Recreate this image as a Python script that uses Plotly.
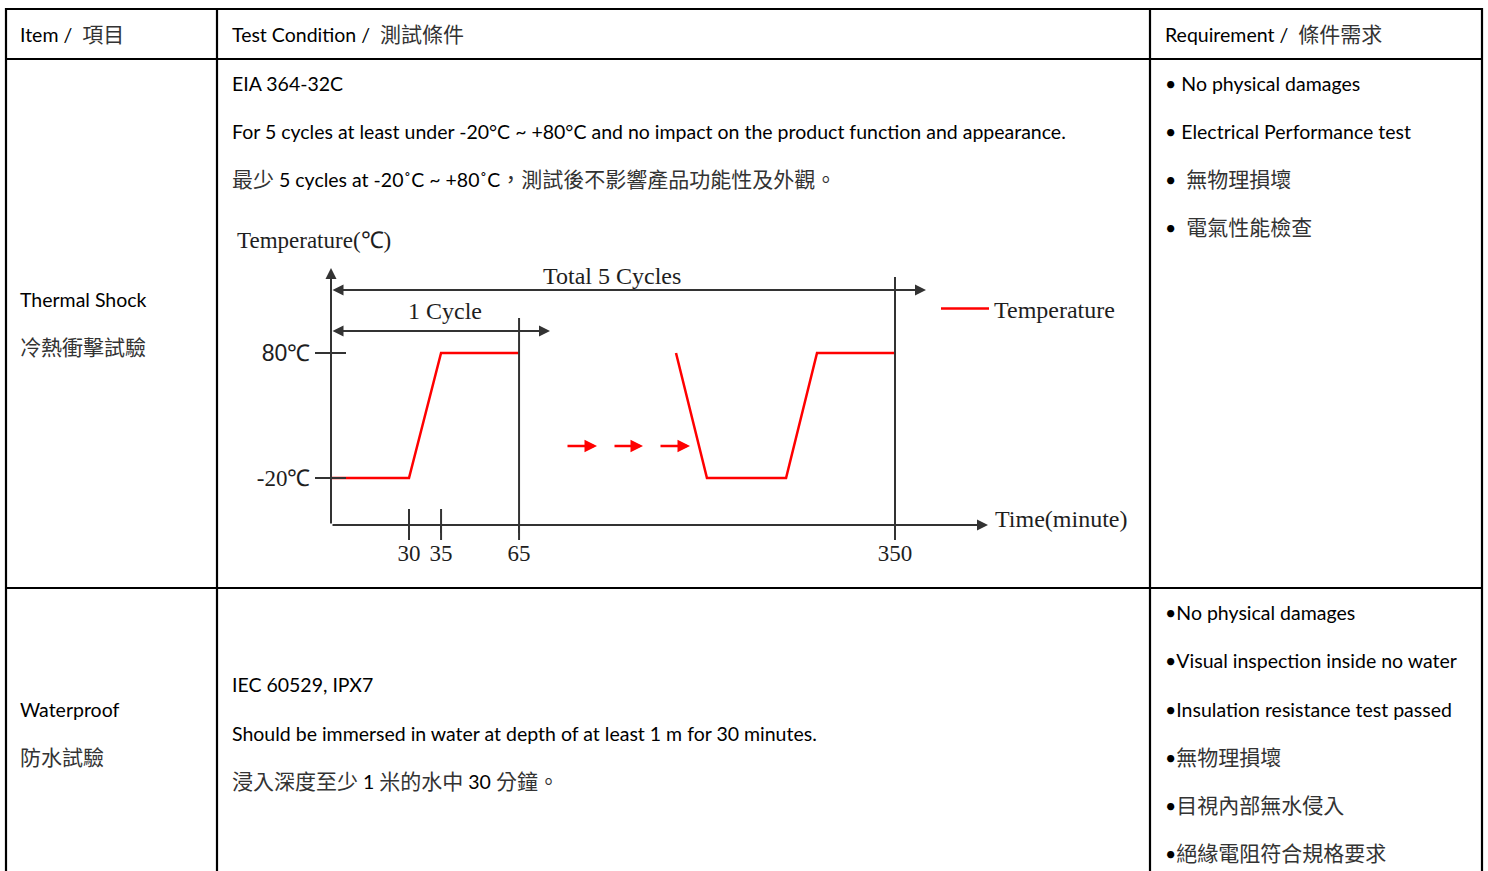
import re
import plotly.graph_objects as go

# ---------------- data ----------------
# Thermal-shock temperature profile, read off the schematic (the time axis is drawn
# not to scale, so times are positions along the drawn axis, labelled by time_tick_text)
first_cycle_time = [0, 48.4, 68.3, 116.7]
first_cycle_temp = [-20, -20, 80, 80]
last_cycle_time = [214.1, 233.3, 282.4, 301.6, 350]
last_cycle_temp = [80, -20, -20, 80, 80]
time_tick_vals = [48.4, 68.3, 116.7, 350]
time_tick_text = ["30", "35", "65", "350"]
cycle_bounds = [116.7, 350]
temp_tick_vals = [80, -20]
temp_tick_text = ['<span style="font-family:Liberation Sans">80</span>℃', "-20℃"]
series_name = "Temperature"

# table text
header = ["Item /  項目", "Test Condition /  測試條件", "Requirement /  條件需求"]
items = [["Thermal Shock", "冷熱衝擊試驗"], ["Waterproof", "防水試驗"]]
conditions = [
    ["EIA 364-32C",
     "For 5 cycles at least under -20°C ~ +80°C and no impact on the product function and appearance.",
     "最少 5 cycles at -20˚C ~ +80˚C，測試後不影響產品功能性及外觀。"],
    ["IEC 60529, IPX7",
     "Should be immersed in water at depth of at least 1 m for 30 minutes.",
     "浸入深度至少 1 米的水中 30 分鐘。"],
]
requirements = [
    ["• No physical damages", "• Electrical Performance test", "•  無物理損壞", "•  電氣性能檢查"],
    ["•No physical damages", "•Visual inspection inside no water", "•Insulation resistance test passed",
     "•無物理損壞", "•目視內部無水侵入", "•絕緣電阻符合規格要求"],
]

# ---------------- layout constants (pixels) ----------------
W, H = 1488, 871
COL_X = [6, 217, 1150, 1482]
ROW_Y = [9, 59, 588]
TEXT_FONT = "Lato, 'Noto Sans CJK TC', sans-serif"
SERIF = "'Liberation Serif', 'Times New Roman', serif"
INK = "#1e1e1e"
TX = -2      # annotation box padding compensation
TY = -0.5

# chart pixel geometry
X0_PX, X350_PX = 331, 895
Y80_PX, YM20_PX = 353, 478
SX = (X350_PX - X0_PX) / 350.0
SY = (YM20_PX - Y80_PX) / 100.0


def vx(px):
    return (px - X0_PX) / SX


def vy(py):
    return 80 + (Y80_PX - py) / SY


def cjk(s):
    return re.sub(r'([\u2E80-\u9FFF\uFF00-\uFFEF\u3000-\u303F]+)',
                  r'<span style="font-size:21px;color:#333333">\1</span>', s)


fig = go.Figure()

# temperature profile (first and last cycle)
fig.add_trace(go.Scatter(
    x=first_cycle_time + [None] + last_cycle_time,
    y=first_cycle_temp + [None] + last_cycle_temp,
    mode="lines", line=dict(color="#ff0000", width=2.5),
    name=series_name, xaxis="x2", yaxis="y2", showlegend=True, hoverinfo="skip",
))

shapes = []
annotations = []

# ---- table grid ----
for y in ROW_Y:
    shapes.append(dict(type="line", xref="x", yref="y", x0=COL_X[0] - 1, x1=COL_X[-1] + 1, y0=y, y1=y,
                       line=dict(color="black", width=2.2)))
for x in COL_X:
    shapes.append(dict(type="line", xref="x", yref="y", x0=x, x1=x, y0=ROW_Y[0] - 1, y1=H + 5,
                       line=dict(color="black", width=2.2)))


def add_text(x, y, s):
    annotations.append(dict(xref="x", yref="y", x=x + TX, y=y + TY, text=cjk(s), showarrow=False,
                            xanchor="left", yanchor="middle",
                            font=dict(family=TEXT_FONT, size=19.5, color="black")))


HEADER_Y = 34
for cx, s in zip([20, 232, 1165], header):
    add_text(cx, HEADER_Y, s)

item_y = [[300, 347], [710, 757]]
cond_y = [[84, 132, 179], [685, 734, 781]]
req_y = [[84, 132, 179, 227], [613, 661, 710, 757, 805, 853]]
for r in range(2):
    for s, y in zip(items[r], item_y[r]):
        add_text(20, y, s)
    for s, y in zip(conditions[r], cond_y[r]):
        add_text(232, y, s)
    for s, y in zip(requirements[r], req_y[r]):
        add_text(1165, y, s)

# ---- chart decorations ----
AX_C = "#333333"
x_axis_y = vy(525)


def arrow(x_head, y_head, x_tail, y_tail, color=AX_C, width=2, both=False, size=1.1):
    a = dict(xref="x2", yref="y2", axref="x2", ayref="y2", x=x_head, y=y_head, ax=x_tail, ay=y_tail,
             text="", showarrow=True, arrowhead=2, arrowsize=size, arrowwidth=width, arrowcolor=color,
             standoff=0, startstandoff=0)
    if both:
        a.update(arrowside="end+start", startarrowhead=2, startarrowsize=size)
    annotations.append(a)


# axes with arrows
arrow(0, vy(268), 0, x_axis_y)
arrow(vx(988), x_axis_y, 0, x_axis_y)
# total / single cycle spans
arrow(vx(926), vy(290), 0, vy(290), both=True)
arrow(vx(550), vy(331), 0, vy(331), both=True)
# continuation arrows
for t0, t1 in zip([vx(566), vx(613), vx(659)], [vx(597), vx(643), vx(690)]):
    arrow(t1, vy(446), t0, vy(446), color="#ff0000", width=2.5, size=1.0)

# cycle boundary lines (down to the tick ends)
for xb, top in zip(cycle_bounds, [vy(318), vy(277)]):
    shapes.append(dict(type="line", xref="x2", yref="y2", x0=xb, x1=xb, y0=vy(540), y1=top,
                       line=dict(color=AX_C, width=2)))
# the time ticks crossing the axis
for xt in time_tick_vals[:2]:
    shapes.append(dict(type="line", xref="x2", yref="y2", x0=xt, x1=xt, y0=vy(540), y1=vy(509),
                       line=dict(color=AX_C, width=2)))
# inner part of the temperature ticks
for yt in temp_tick_vals:
    shapes.append(dict(type="line", xref="x2", yref="y2", x0=0, x1=vx(346), y0=yt, y1=yt,
                       line=dict(color=AX_C, width=2)))


def chart_text(x, y, s, anchor="center", size=23):
    annotations.append(dict(xref="x2", yref="y2", x=x, y=y, text=s, showarrow=False,
                            xanchor=anchor, yanchor="middle",
                            font=dict(family=SERIF, size=size, color=INK)))


chart_text(vx(235), vy(241), "Temperature(℃)", "left")
chart_text(vx(612), vy(276), "Total 5 Cycles", size=24)
chart_text(vx(445), vy(311), "1 Cycle", size=24)
chart_text(vx(993), vy(519), "Time(minute)", "left", size=24)

# chart sub-plot geometry
DX0, DX1 = 230, 1010
DY0, DY1 = 225, 575

fig.update_layout(
    width=W, height=H, margin=dict(l=0, r=0, t=0, b=0),
    paper_bgcolor="white", plot_bgcolor="rgba(0,0,0,0)",
    xaxis=dict(range=[0, W], domain=[0, 1], visible=False, fixedrange=True),
    yaxis=dict(range=[H, 0], domain=[0, 1], visible=False, fixedrange=True),
    xaxis2=dict(domain=[DX0 / W, DX1 / W], range=[vx(DX0), vx(DX1)], anchor="free",
                position=(H - 525) / H, showgrid=False, zeroline=False, showline=False,
                tickmode="array", tickvals=time_tick_vals, ticktext=time_tick_text,
                ticks="outside", ticklen=7, tickwidth=2, tickcolor=AX_C,
                tickfont=dict(family=SERIF, size=23, color=INK)),
    yaxis2=dict(domain=[(H - DY1) / H, (H - DY0) / H], range=[vy(DY1), vy(DY0)], anchor="free",
                position=X0_PX / W, showgrid=False, zeroline=False, showline=False,
                tickmode="array", tickvals=temp_tick_vals, ticktext=temp_tick_text,
                ticks="outside", ticklen=16, tickwidth=2, tickcolor=AX_C,
                tickfont=dict(family=SERIF, size=23, color=INK)),
    legend=dict(x=936 / W, y=(H - 309) / H, xanchor="left", yanchor="middle",
                bgcolor="rgba(0,0,0,0)", borderwidth=0, itemwidth=48,
                font=dict(family=SERIF, size=24, color=INK)),
    shapes=shapes, annotations=annotations,
)

fig.write_html("out.html", config={"displayModeBar": False},
               post_script="document.body.style.margin='0';document.body.style.overflow='hidden';")
